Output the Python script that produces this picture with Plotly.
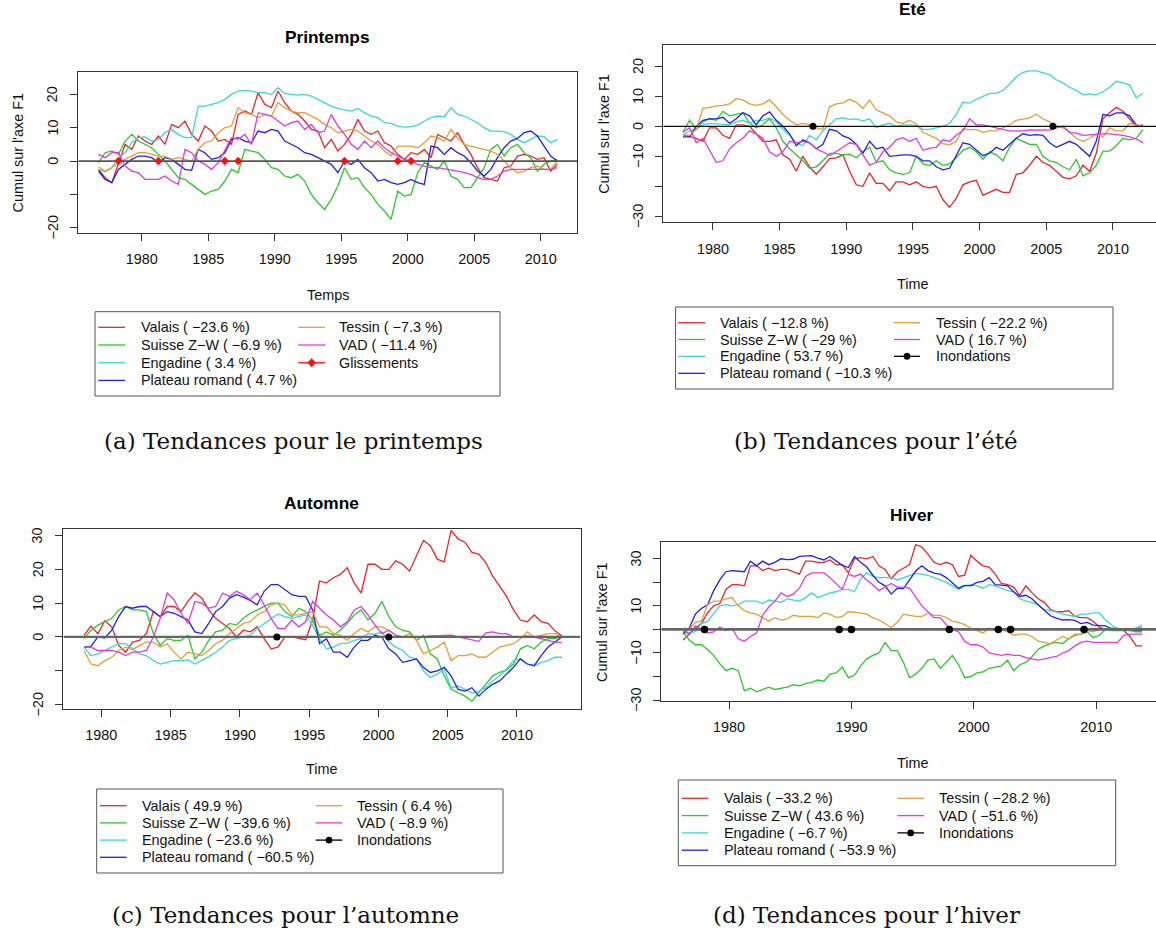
import plotly.graph_objects as go

W, H = 1156, 928
STEP = 0.5  # years between successive readings

REGIONS = ["Valais", "Suisse Z\u2212W", "Engadine", "Plateau romand", "Tessin", "VAD"]
COLORS = ["#e8262b", "#2cc92c", "#38d8d8", "#2020ee", "#e99d33", "#e23ae2"]

# ---------------- (a) Printemps ----------------
A_START = 1976.75
A_VALAIS = [-2.5, -5.0, -6.5, -1.0, 5.0, 3.5, 7.5, 6.0, 5.0, 7.5,
            5.0, 11.0, 10.0, 12.0, 8.0, 6.0, 10.5, 9.0, 6.0, 6.5,
            5.0, 14.0, 15.0, 14.0, 20.5, 17.0, 16.0, 21.0, 17.5, 15.0,
            14.0, 12.0, 9.5, 9.0, 4.0, 6.5, 3.0, 5.0, 8.0, 12.5,
            9.0, 8.0, 9.0, 5.5, 4.5, 2.0, 0.5, 2.5, 2.0, 3.5,
            1.0, 8.0, 7.0, 6.0, 8.5, 5.0, 2.0, -2.0, -5.0, -5.5,
            -6.0, -2.0, -1.5, 1.5, 2.0, 1.5, 0.5, 1.0, -3.0, -1.0]
A_SUISSE = [-0.5, 2.5, 3.0, 2.0, 6.0, 8.0, 6.0, 5.0, 4.0, 2.0,
            0.0, -2.5, -5.0, -5.5, -7.0, -8.5, -10.0, -9.0, -8.5, -6.0,
            -2.5, -3.5, 3.5, 3.0, 2.5, 0.5, -2.0, -2.5, -4.5, -5.0,
            -4.0, -6.0, -10.0, -12.5, -14.5, -11.5, -7.5, -2.0, -5.5, -5.0,
            -8.0, -10.0, -13.0, -15.0, -17.5, -9.0, -10.5, -10.0, -3.5, -0.5,
            -1.5, -2.5, 0.0, -4.5, -5.5, -8.0, -8.0, -5.0, -2.0, 3.5,
            5.0, 1.5, 4.0, 5.0, 2.5, 1.0, -3.0, -1.0, 0.0, 0.5]
A_ENGADINE = [-2.5, -3.2, -2.0, 1.0, 2.5, 5.5, 7.0, 7.2, 6.0, 6.5,
              8.5, 9.5, 8.0, 7.0, 7.0, 16.5, 16.5, 17.0, 17.5, 18.5,
              20.0, 21.0, 21.2, 21.0, 20.5, 20.5, 20.0, 22.0, 20.3, 20.0,
              19.8, 20.0, 19.5, 18.5, 17.5, 16.5, 15.8, 15.5, 15.0, 15.8,
              14.5, 13.5, 13.0, 11.5, 11.3, 10.5, 10.2, 10.3, 10.8, 12.0,
              13.0, 13.5, 13.3, 16.0, 14.0, 13.5, 12.5, 11.5, 10.0, 9.0,
              9.0, 8.8, 8.0, 6.5, 5.5, 6.5, 7.5, 7.3, 5.5, 6.5]
A_PLATEAU = [-3.0, -5.5, -6.5, -2.5, -1.0, 0.5, 1.5, 1.5, 1.0, -0.5,
             1.0, 0.5, -1.0, -2.5, -2.8, 3.5, 2.5, 0.5, 1.0, 2.5,
             6.5, 7.0, 6.0, 5.5, 9.0, 8.5, 9.5, 9.0, 6.0, 5.0,
             4.0, 2.5, 2.0, 1.0, 0.0, -1.0, -3.5, 0.0, -1.0, 0.5,
             -2.0, -3.5, -6.0, -5.5, -6.5, -7.0, -6.5, -5.5, -6.5, -7.0,
             4.5, 4.0, 2.0, 4.0, 2.5, 1.5, -0.5, -3.0, -4.5, -2.5,
             1.0, 4.0, 6.0, 6.8, 8.5, 9.0, 7.5, 4.5, 1.5, 0.0]
A_TESSIN = [-1.8, -3.0, -2.0, -0.5, 0.5, 1.5, 2.5, 2.5, 2.0, 1.5,
            1.5, 0.5, 1.0, 0.5, 0.0, 3.5, 5.5, 6.0, 8.5, 10.0,
            10.5, 16.0, 14.5, 14.0, 13.0, 14.0, 13.5, 17.5, 16.0, 15.0,
            14.5, 14.5, 13.5, 12.5, 11.0, 10.0, 8.5, 9.0, 9.5, 9.0,
            7.5, 6.0, 5.0, 3.0, 1.5, 4.5, 4.5, 4.5, 4.0, 5.5,
            7.5, 7.0, 6.0, 9.5, 7.0, 5.0, 4.5, 4.0, 3.5, 3.0,
            2.0, 0.0, -2.0, -3.5, -3.0, -2.0, -1.5, -2.5, -2.5, 0.0]
A_VAD = [2.0, 1.0, 2.5, 2.5, -1.5, -3.0, -3.5, -5.5, -5.5, -5.5,
         -4.5, -6.0, -7.0, 3.5, 2.5, 0.0, -1.0, -2.5, -0.5, 3.5,
         7.0, 6.5, 8.0, 5.0, 14.5, 14.0, 13.5, 12.0, 10.5, 11.5,
         12.0, 9.5, 11.0, 8.5, 9.0, 14.0, 10.5, 8.0, 5.0, 3.5,
         6.0, 4.0, 6.0, 4.0, 2.5, 1.5, 0.5, 0.0, -1.0, -1.5,
         -2.0, -2.0, -2.3, -2.5, -3.0, -3.5, -4.0, -5.0, -5.5, -5.5,
         -4.5, -3.0, -2.5, -2.5, -2.5, -2.5, -2.3, -2.5, -2.5, -2.0]
A_EVENTS = [1978.25, 1981.25, 1986.25, 1987.25, 1995.25, 1999.25, 2000.25]
A_PCT = [-23.6, -6.9, 3.4, 4.7, -7.3, -11.4]

# ---------------- (b) Eté ----------------
B_START = 1977.75
B_VALAIS = [-2.8, -3.3, -4.0, -5.0, -0.5, -0.5, -3.0, -4.0, 0.5, 0.5,
            0.0, -2.5, -5.0, -5.0, -4.5, -9.5, -11.0, -15.0, -10.0, -13.5,
            -16.0, -13.5, -10.8, -10.5, -9.5, -15.0, -19.5, -20.0, -15.5, -19.0,
            -19.0, -21.5, -18.5, -18.5, -19.5, -18.5, -20.0, -20.5, -20.0, -24.5,
            -27.0, -24.0, -19.5, -18.5, -18.0, -23.0, -22.0, -21.0, -22.0, -22.0,
            -16.0, -15.5, -13.0, -10.0, -12.0, -13.0, -15.0, -17.0, -17.5, -16.5,
            -13.0, -15.0, -9.0, 2.5, 4.5, 6.3, 5.0, 2.5, 0.0, 0.5]
B_SUISSE = [-2.0, 2.0, -1.0, 1.5, 2.5, 2.0, 5.0, 3.5, 4.0, 4.5,
            1.0, -0.5, 0.5, 2.5, -0.5, -5.0, -7.5, -9.5, -11.5, -14.0,
            -13.5, -11.5, -9.0, -9.0, -9.5, -9.3, -10.5, -8.5, -7.0, -12.0,
            -11.5, -14.5, -15.5, -16.0, -15.5, -10.0, -12.5, -13.0, -11.5, -13.0,
            -12.5, -10.5, -8.0, -7.0, -8.5, -11.0, -8.5, -9.5, -11.5, -7.0,
            -4.0, -5.0, -6.0, -6.0, -10.0, -11.5, -12.0, -13.5, -14.5, -11.0,
            -16.5, -15.5, -13.0, -8.3, -8.3, -6.5, -4.0, -4.5, -4.0, -1.0]
B_ENGADINE = [-2.8, -1.5, -1.0, 0.5, 1.0, 0.8, 0.8, 0.5, 1.5, 2.0,
              1.0, 2.0, 2.0, 2.8, 1.5, -1.0, -3.0, -5.5, -6.5, -3.0,
              -4.5, -1.5, 0.5, 2.5, 2.8, 2.3, 2.5, 1.8, 2.5, -0.5,
              0.5, 1.0, 0.0, 0.5, 0.5, 0.3, -1.0, -1.0, -0.5, 0.0,
              1.0, 4.0, 8.0, 7.7, 9.0, 10.0, 11.0, 11.0, 12.0, 14.0,
              16.5, 18.0, 18.5, 18.5, 17.8, 17.2, 15.5, 14.5, 13.0, 12.0,
              10.5, 10.8, 10.5, 11.5, 13.0, 15.0, 14.5, 13.8, 9.5, 11.0]
B_PLATEAU = [-3.5, -3.5, 0.0, 2.0, 2.5, 2.5, 3.0, 1.0, 2.5, 4.5,
             3.5, 0.5, 3.5, 4.8, 2.0, 0.0, -2.5, -6.5, -4.5, -5.5,
             -7.5, -6.0, -1.0, -1.5, -3.2, -4.0, -6.0, -9.0, -5.0, -7.5,
             -7.0, -10.0, -9.8, -9.5, -9.5, -10.0, -11.5, -11.5, -13.5, -14.5,
             -14.0, -10.0, -5.5, -6.0, -8.0, -9.8, -9.0, -7.0, -8.0, -6.0,
             -4.0, -2.5, -3.0, -2.8, -3.0, -5.5, -7.0, -6.0, -5.0, -6.0,
             -8.0, -10.0, -5.0, 4.0, 3.5, 4.5, 4.5, 3.5, 0.5, 0.0]
B_TESSIN = [-2.8, -3.0, -1.0, 6.0, 6.3, 6.8, 7.0, 7.5, 9.2, 8.8,
            7.5, 7.0, 7.5, 8.8, 6.5, 4.0, 2.0, 0.5, 1.0, 0.5,
            -0.5, -1.0, 6.5, 7.5, 7.8, 9.0, 8.0, 6.0, 8.7, 5.5,
            4.5, 3.5, 1.5, 1.0, 2.0, 0.8, -2.0, -3.0, -4.0, -5.8,
            -6.2, -5.0, -0.8, -1.2, -1.0, -2.0, -1.5, -1.5, -0.5, 0.5,
            2.0, 2.5, 2.8, 4.0, 2.5, 1.5, 0.0, -0.5, -2.0, -4.0,
            -5.0, -4.0, -2.5, -3.5, -0.5, -1.5, -1.5, 1.0, 0.5, 0.0]
B_VAD = [-2.0, -0.5, -5.5, -4.0, -8.0, -12.0, -11.5, -7.5, -5.5, -4.0,
         -1.5, -2.5, -4.0, -8.5, -10.0, -8.5, -5.0, -5.5, -5.0, -5.5,
         -7.5, -8.5, -9.8, -8.5, -7.0, -5.5, -6.0, -9.5, -13.0, -12.0,
         -8.5, -7.0, -4.5, -3.8, -5.0, -4.0, -8.0, -7.3, -7.0, -4.5,
         -5.0, -3.0, -1.5, 2.5, 0.5, 0.5, 0.0, -0.5, -1.0, -1.5,
         -1.5, -1.5, -1.2, -1.2, -1.3, -1.3, -0.5, 0.0, -2.0, -2.3,
         -3.0, -2.8, -2.5, -2.5, -2.5, -2.7, -3.0, -3.5, -4.2, -5.5]
B_EVENTS = [1987.5, 2005.5]
B_PCT = [-12.8, -29, 53.7, -10.3, -22.2, 16.7]

# ---------------- (c) Automne ----------------
C_START = 1978.75
C_VALAIS = [0.5, 3.2, 1.0, 4.8, 3.0, -2.5, -4.5, -1.5, -1.0, 1.0,
            7.5, 6.0, 9.0, 9.0, 7.5, 10.5, 13.0, 11.5, 8.0, 5.5,
            4.0, 2.5, 0.0, 2.0, 1.5, 3.0, -0.5, -3.5, -3.0, 0.0,
            0.0, -0.5, -0.8, 5.0, 16.5, 16.0, 17.5, 18.5, 20.5, 16.0,
            13.0, 21.5, 21.5, 20.0, 20.0, 22.5, 21.5, 19.5, 24.0, 28.5,
            27.0, 23.0, 22.2, 31.5, 29.0, 28.0, 25.0, 24.5, 22.0, 18.0,
            15.0, 12.0, 8.0, 5.0, 4.5, 6.5, 4.5, 4.0, 1.8, 0.3]
C_SUISSE = [-0.5, 2.0, 3.5, 4.5, 5.5, 8.0, 9.0, 8.0, 8.0, 7.5,
            1.0, -2.5, -0.5, -1.0, -1.0, 0.5, -6.5, -4.5, -1.0, 1.5,
            2.0, 4.0, 3.5, 5.5, 7.0, 8.0, 9.0, 10.0, 10.0, 7.5,
            6.0, 8.5, 7.5, 5.0, 0.5, 1.5, 0.5, 2.0, 4.0, 6.5,
            8.0, 5.0, 7.0, 10.5, 6.0, 3.0, 2.0, 1.5, -1.0, 0.5,
            -5.0, -6.5, -11.5, -15.5, -16.5, -17.5, -19.0, -16.5, -14.0, -11.5,
            -10.5, -9.8, -8.0, -3.5, -2.5, -3.5, -1.5, -0.5, -0.5, 0.0]
C_ENGADINE = [-3.0, -5.5, -5.0, -4.0, -3.0, -2.0, -2.0, -3.5, -5.0, -5.5,
              -7.0, -8.0, -7.5, -7.0, -7.0, -6.8, -8.0, -7.0, -5.8, -4.5,
              -3.0, -1.0, -0.5, 0.0, 0.5, 2.5, 4.0, 5.5, 6.8, 6.0,
              5.5, 6.0, 6.5, 3.5, -0.5, -3.5, -3.0, -2.0, -1.8, -1.0,
              -0.5, 1.0, 0.8, 1.5, -1.5, -3.0, -4.0, -6.0, -6.5, -10.0,
              -12.0, -11.0, -9.5, -15.0, -14.5, -15.5, -16.5, -16.0, -15.0, -13.0,
              -11.5, -9.5, -7.0, -6.5, -8.0, -8.5, -7.5, -7.0, -6.0, -6.0]
C_PLATEAU = [-3.0, -2.8, 0.0, -0.3, 2.0, 6.0, 9.0, 8.5, 9.0, 9.0,
             7.5, 6.0, 7.5, 7.0, 6.0, 5.0, 1.5, 1.0, 4.0, 7.5,
             9.0, 11.5, 12.5, 11.8, 10.8, 9.5, 13.5, 15.5, 15.5, 14.0,
             12.5, 12.0, 12.0, 8.0, -2.0, -0.5, -4.5, -4.5, -6.0, -3.0,
             -1.0, -1.0, 0.5, 0.0, -3.5, -5.0, -7.5, -7.0, -6.5, -9.0,
             -10.5, -10.0, -9.0, -11.5, -15.5, -16.0, -15.0, -17.5, -15.5, -14.0,
             -13.0, -11.0, -9.0, -6.5, -8.0, -8.5, -5.5, -3.0, -1.5, 0.0]
C_TESSIN = [-4.0, -8.0, -8.5, -7.0, -6.0, -4.0, -3.0, -3.8, -2.5, -1.5,
            -1.5, -3.0, -2.0, -4.5, -6.5, -4.5, -5.0, -5.5, -4.0, -2.0,
            -1.0, 1.0, 2.5, 4.0, 4.5, 6.5, 7.5, 9.5, 10.0, 9.5,
            6.5, 6.5, 7.0, 7.5, 3.0, 3.0, 1.0, 0.5, -1.0, 1.0,
            2.5, 1.5, 3.0, 3.0, 2.0, 0.5, 0.0, 1.0, -1.0, -5.0,
            -4.0, -3.0, -1.5, -7.0, -5.5, -5.5, -5.0, -6.0, -6.0, -4.5,
            -3.0, -2.5, -2.0, -0.5, 1.5, 0.0, 0.5, 1.0, 1.0, 0.0]
C_VAD = [-3.0, -3.0, -4.0, -4.0, -4.0, -4.5, -5.5, -4.5, -4.5, -4.0,
         0.0, 5.5, 13.0, 11.0, 7.0, 4.0, 10.5, 10.0, 8.5, 9.0,
         13.0, 12.0, 13.5, 12.5, 11.0, 13.0, 9.5, 5.5, 2.5, 2.5,
         5.0, 3.0, 4.5, 10.5, 8.5, 6.5, 5.0, 3.0, 4.5, 8.0,
         9.0, 6.5, 3.5, 1.0, 2.0, 0.5, 0.0, 0.0, 0.0, 0.0,
         0.3, 0.3, 0.5, 0.5, 0.0, -0.5, -1.0, -1.3, 1.2, 1.5,
         1.0, 1.0, 0.0, 0.0, 0.3, 0.0, -0.5, -1.0, -1.5, -1.7]
C_EVENTS = [1992.67, 2000.75]
C_PCT = [49.9, -39.6, -23.6, -60.5, 6.4, -8.9]

# ---------------- (d) Hiver ----------------
D_START = 1976.25
D_VALAIS = [-4.5, -2.0, 0.5, 2.5, 7.0, 10.0, 11.0, 17.0, 19.0, 19.0,
            18.5, 27.0, 27.0, 25.0, 26.0, 25.0, 25.5, 25.5, 24.5, 23.5,
            29.0, 29.0, 28.5, 28.5, 29.5, 27.5, 27.5, 24.0, 30.0, 30.5,
            30.0, 31.0, 27.0, 25.5, 21.5, 24.5, 26.0, 27.5, 36.0, 35.0,
            32.0, 28.5, 27.5, 28.5, 27.5, 22.5, 23.0, 31.5, 29.0, 27.0,
            26.5, 23.5, 19.5, 19.0, 18.0, 14.5, 18.5, 15.5, 13.0, 11.5,
            8.5, 7.5, 7.5, 8.0, 5.5, 5.0, 5.0, 3.5, 1.0, 0.0,
            0.0, 0.0, -0.5, -3.0, -7.0, -7.0]
D_SUISSE = [-1.0, -4.5, -6.5, -6.5, -8.5, -11.0, -14.5, -17.5, -16.5, -17.5,
            -26.0, -25.0, -26.5, -25.5, -24.5, -25.5, -25.0, -24.5, -23.5, -24.0,
            -23.0, -22.5, -21.5, -22.0, -19.0, -18.5, -16.0, -20.5, -19.5, -15.5,
            -12.5, -11.0, -10.0, -5.5, -9.0, -9.0, -14.0, -20.5, -19.0, -16.5,
            -13.0, -12.5, -16.5, -14.0, -11.0, -15.0, -20.5, -20.0, -18.5, -18.0,
            -16.5, -16.0, -15.5, -13.0, -17.5, -15.0, -14.0, -11.5, -8.5, -7.0,
            -6.0, -5.5, -6.0, -4.0, -2.5, -2.0, -1.0, -3.5, -2.5, 0.0,
            -0.5, -0.5, -0.5, -0.5, -1.0, -1.0]
D_ENGADINE = [-0.5, -1.5, -1.0, 2.5, 3.5, 7.0, 10.0, 10.5, 10.0, 10.5,
              12.0, 12.0, 12.0, 11.0, 12.5, 12.0, 11.5, 13.0, 12.5, 12.0,
              13.5, 15.5, 13.5, 14.5, 15.5, 16.0, 17.0, 17.0, 16.0, 21.5,
              24.0, 22.5, 22.0, 22.0, 22.0, 21.0, 22.0, 23.0, 23.8, 23.5,
              23.0, 22.0, 21.0, 20.0, 18.5, 17.0, 18.5, 19.0, 18.5, 17.5,
              19.0, 18.5, 17.5, 16.5, 16.0, 13.0, 12.0, 11.5, 10.5, 8.5,
              8.0, 7.5, 6.5, 6.0, 5.5, 6.5, 6.5, 7.0, 7.0, 4.0,
              2.0, 0.0, 0.0, 0.0, 0.5, 2.0]
D_PLATEAU = [-2.0, 0.5, 6.5, 8.9, 10.5, 16.5, 21.0, 24.5, 25.0, 24.8,
             24.5, 29.0, 27.0, 29.0, 27.5, 28.5, 30.0, 29.6, 29.8, 31.0,
             31.0, 31.3, 30.3, 29.5, 31.0, 29.0, 27.2, 26.3, 31.0, 28.5,
             26.5, 23.0, 20.0, 18.5, 15.0, 17.5, 17.3, 21.0, 24.8, 27.0,
             25.0, 23.9, 23.5, 22.0, 19.8, 17.5, 18.7, 18.5, 20.0, 20.4,
             22.0, 19.0, 18.8, 18.5, 16.0, 14.0, 14.5, 13.0, 10.5, 8.0,
             5.8, 4.8, 4.0, 4.2, 3.8, 2.5, 3.0, 1.8, 1.5, 1.5,
             0.4, 0.3, 0.0, 0.0, -0.4, -0.4]
D_TESSIN = [-0.5, 0.0, 3.0, 3.5, 10.5, 12.0, 12.0, 13.0, 13.5, 10.0,
            8.0, 7.0, 6.5, 5.0, 3.5, 5.0, 4.0, 4.5, 6.0, 5.5,
            5.5, 5.5, 5.0, 7.0, 6.5, 5.0, 5.5, 7.5, 7.3, 6.8,
            6.5, 5.0, 4.0, 2.5, 0.8, 3.0, 6.5, 6.0, 5.5, 5.5,
            6.8, 6.0, 6.0, 5.0, 3.5, 3.0, 2.0, 0.5, -0.5, -1.5,
            0.5, 0.0, 0.0, -1.0, -2.5, -2.0, -2.0, -3.0, -5.0, -5.5,
            -6.0, -4.5, -3.0, -4.0, -2.0, -2.0, -0.5, -1.0, 0.0, 0.0,
            0.5, 0.5, 0.0, 0.0, 0.5, 1.0]
D_VAD = [-0.5, -2.0, 1.5, 0.0, -1.5, -1.0, 1.0, -0.5, 0.5, -4.0,
         -5.0, -3.0, -1.5, 6.0, 9.5, 12.0, 15.5, 14.0, 15.0, 17.5,
         22.5, 24.0, 24.0, 24.0, 22.0, 19.5, 17.0, 23.5, 22.5, 23.5,
         21.0, 19.0, 16.5, 18.0, 19.5, 18.0, 18.0, 17.5, 14.0, 10.0,
         7.5, 5.0, 5.0, 2.0, 0.0, -1.0, -5.0, -6.5, -6.5, -7.5,
         -10.0, -10.5, -11.0, -10.5, -11.0, -11.0, -12.0, -12.5, -13.0, -12.5,
         -12.0, -11.5, -10.0, -9.0, -7.0, -5.5, -5.0, -5.5, -5.5, -5.5,
         -5.5, -5.5, -2.5, -2.0, -2.0, -2.0]
D_EVENTS = [1978.0, 1989.0, 1990.0, 1998.0, 2002.0, 2003.0, 2009.0]
D_PCT = [-33.2, 43.6, -6.7, -53.9, -28.2, -51.6]

# tick values / labels
A_YTICKS, A_YTEXT = [-20, -10, 0, 10, 20], ["\u221220", "", "0", "10", "20"]
B_YTICKS, B_YTEXT = [-30, -20, -10, 0, 10, 20], ["\u221230", "", "\u221210", "0", "10", "20"]
C_YTICKS, C_YTEXT = [-20, -10, 0, 10, 20, 30], ["\u221220", "", "0", "10", "20", "30"]
D_YTICKS, D_YTEXT = [-30, -20, -10, 0, 10, 20, 30], ["\u221230", "", "\u221210", "", "10", "", "30"]
X5_TICKS = [1980, 1985, 1990, 1995, 2000, 2005, 2010]
X10_TICKS = [1980, 1990, 2000, 2010]

# ---------------- layout helpers ----------------
SANS = "Liberation Sans, Arial, Helvetica, sans-serif"
SERIF = "DejaVu Serif, serif"
FS = 14.4


def px(x):
    return x / W


def py(y):
    return 1 - y / H


def lab(name, v):
    s = ("%g" % v).replace("-", "\u2212")
    return "%s ( %s %%)" % (name, s)


PANELS = [
    dict(start=A_START, series=[A_VALAIS, A_SUISSE, A_ENGADINE, A_PLATEAU, A_TESSIN, A_VAD],
         events=A_EVENTS, ev_name="Glissements", ev_symbol="diamond", ev_color="#ff1010", ev_size=6.5,
         pct=A_PCT, box=(78.3, 71.7, 577.0, 232.7), xr=[1975.23, 2012.73], yr=[-21.5, 26.8], right=True,
         xt=X5_TICKS, yt=A_YTICKS, ytext=A_YTEXT, zl=("#555555", 1.8),
         title="Printemps", title_y=36.7, xlabel="Temps", xlabel_y=295, ylabel=True,
         lbox=(95, 311.7, 500, 396), rows=[327.3, 345.0, 362.7, 380.4],
         c1=(98.3, 125, 139), c2=(298.3, 325, 337.3),
         caption="(a) Tendances pour le printemps", cap=(293, 441)),
    dict(start=B_START, series=[B_VALAIS, B_SUISSE, B_ENGADINE, B_PLATEAU, B_TESSIN, B_VAD],
         events=B_EVENTS, ev_name="Inondations", ev_symbol="circle", ev_color="#000000", ev_size=7,
         pct=B_PCT, box=(663.3, 44.7, 1156.0, 222.3), xr=[1976.28, 2013.23], yr=[-32.0, 27.2], right=False,
         xt=X5_TICKS, yt=B_YTICKS, ytext=B_YTEXT, zl=("#111111", 1.3),
         title="Eté", title_y=9.0, xlabel="Time", xlabel_y=284, ylabel=True, title_x=912,
         lbox=(675.6, 307, 1113, 389), rows=[322.7, 339.5, 356.3, 373.3],
         c1=(678.3, 705, 718.3), c2=(894, 920, 934),
         caption="(b) Tendances pour l\u2019été", cap=(876, 441)),
    dict(start=C_START, series=[C_VALAIS, C_SUISSE, C_ENGADINE, C_PLATEAU, C_TESSIN, C_VAD],
         events=C_EVENTS, ev_name="Inondations", ev_symbol="circle", ev_color="#000000", ev_size=7,
         pct=C_PCT, box=(63.4, 529.4, 580.5, 709.0), xr=[1977.26, 2014.59], yr=[-21.3, 31.8], right=True,
         xt=X5_TICKS, yt=C_YTICKS, ytext=C_YTEXT, zl=("#666666", 2.2),
         title="Automne", title_y=503.3, xlabel="Time", xlabel_y=769, ylabel=False,
         lbox=(96.7, 789, 503, 873), rows=[805.7, 822.9, 840.1, 857.3],
         c1=(100, 126.7, 140), c2=(315.7, 342.3, 355),
         caption="(c) Tendances pour l\u2019automne", cap=(285, 915)),
    dict(start=D_START, series=[D_VALAIS, D_SUISSE, D_ENGADINE, D_PLATEAU, D_TESSIN, D_VAD],
         events=D_EVENTS, ev_name="Inondations", ev_symbol="circle", ev_color="#000000", ev_size=7.5,
         pct=D_PCT, box=(661.3, 542.3, 1156.0, 701.0), xr=[1974.47, 2014.88], yr=[-30.4, 37.0], right=False,
         xt=X10_TICKS, yt=D_YTICKS, ytext=D_YTEXT, zl=("#666666", 2.6),
         title="Hiver", title_y=515, xlabel="Time", xlabel_y=762.7, ylabel=True, title_x=912,
         lbox=(678.3, 780, 1115.7, 865.7), rows=[798.3, 815.6, 832.9, 850.2],
         c1=(681.7, 708.3, 721.7), c2=(897.3, 924, 936.7),
         caption="(d) Tendances pour l\u2019hiver", cap=(866, 915)),
]

fig = go.Figure()
layout = dict(width=W, height=H, margin=dict(l=0, r=0, t=0, b=0),
              paper_bgcolor="white", plot_bgcolor="white", showlegend=False,
              font=dict(family=SANS, size=FS, color="#111111"))
annotations = []
shapes = []

for k, p in enumerate(PANELS):
    sfx = "" if k == 0 else str(k + 1)
    xid, yid = "x" + sfx, "y" + sfx
    bl, bt, br, bb = p["box"]
    for j, vals in enumerate(p["series"]):
        xs = [p["start"] + STEP * i for i in range(len(vals))]
        fig.add_trace(go.Scatter(x=xs, y=vals, mode="lines", name=REGIONS[j],
                                 line=dict(color=COLORS[j], width=1.3),
                                 xaxis=xid, yaxis=yid, hoverinfo="x+y+name"))
    # horizontal reference at zero across the panel
    fig.add_trace(go.Scatter(x=p["xr"], y=[0, 0], mode="lines",
                             line=dict(color=p["zl"][0], width=p["zl"][1]),
                             xaxis=xid, yaxis=yid, hoverinfo="skip"))
    fig.add_trace(go.Scatter(x=p["events"], y=[0] * len(p["events"]), mode="markers",
                             name=p["ev_name"],
                             marker=dict(symbol=p["ev_symbol"], size=p["ev_size"], color=p["ev_color"],
                                         line=dict(width=0)),
                             xaxis=xid, yaxis=yid))

    layout["xaxis" + sfx] = dict(
        domain=[px(bl), min(1.0, px(br))], range=p["xr"], anchor=yid,
        showline=True, mirror=True, linecolor="#333333", linewidth=1,
        ticks="outside", ticklen=7, tickwidth=1, tickcolor="#333333",
        tickvals=p["xt"], ticktext=[str(v) for v in p["xt"]],
        tickfont=dict(family=SANS, size=FS, color="#111111"),
        showgrid=False, zeroline=False, ticklabelstandoff=6, fixedrange=True)
    layout["yaxis" + sfx] = dict(
        domain=[py(bb), py(bt)], range=p["yr"], anchor=xid,
        showline=True, mirror=p["right"], linecolor="#333333", linewidth=1,
        ticks="outside", ticklen=7, tickwidth=1, tickcolor="#333333",
        tickvals=p["yt"], showticklabels=False,
        showgrid=False, zeroline=False, fixedrange=True)
    # rotated y tick labels (R style), placed on the y axis scale
    for v, t in zip(p["yt"], p["ytext"]):
        if t:
            annotations.append(dict(text=t, x=px(bl - 25.5), y=v, xref="paper", yref=yid,
                                    xanchor="center", yanchor="middle", textangle=-90,
                                    showarrow=False,
                                    font=dict(family=SANS, size=FS, color="#111111")))

    cx = p.get("title_x", (bl + br) / 2)
    annotations.append(dict(text="<b>%s</b>" % p["title"], x=px(cx), y=py(p["title_y"]),
                            xref="paper", yref="paper", xanchor="center", yanchor="middle",
                            showarrow=False, font=dict(family=SANS, size=17.3, color="#000000")))
    annotations.append(dict(text=p["xlabel"], x=px(cx), y=py(p["xlabel_y"]),
                            xref="paper", yref="paper", xanchor="center", yanchor="middle",
                            showarrow=False, font=dict(family=SANS, size=FS, color="#111111")))
    if p["ylabel"]:
        annotations.append(dict(text="Cumul sur l'axe F1", x=px(bl - 60), y=py((bt + bb) / 2),
                                xref="paper", yref="paper", xanchor="center", yanchor="middle",
                                textangle=-90, showarrow=False,
                                font=dict(family=SANS, size=FS, color="#111111")))
    # legend box
    lx0, ly0, lx1, ly1 = p["lbox"]
    shapes.append(dict(type="rect", xref="paper", yref="paper", x0=px(lx0), x1=px(lx1),
                       y0=py(ly1), y1=py(ly0), line=dict(color="#555555", width=1),
                       fillcolor="rgba(0,0,0,0)"))
    entries = [(0, 0), (0, 1), (0, 2), (0, 3), (1, 0), (1, 1)]
    for j, (col, row) in enumerate(entries):
        c = p["c1"] if col == 0 else p["c2"]
        ry = p["rows"][row]
        shapes.append(dict(type="line", xref="paper", yref="paper", x0=px(c[0]), x1=px(c[1]),
                           y0=py(ry), y1=py(ry), line=dict(color=COLORS[j], width=1.3)))
        annotations.append(dict(text=lab(REGIONS[j], p["pct"][j]), x=px(c[2]), y=py(ry),
                                xref="paper", yref="paper", xanchor="left", yanchor="middle",
                                showarrow=False, font=dict(family=SANS, size=FS, color="#111111")))
    c = p["c2"]
    ry = p["rows"][2]
    shapes.append(dict(type="line", xref="paper", yref="paper", x0=px(c[0]), x1=px(c[1]),
                       y0=py(ry), y1=py(ry), line=dict(color=p["ev_color"], width=1.3)))
    mx = (c[0] + c[1]) / 2
    if p["ev_symbol"] == "diamond":
        r = 4.2
        path = "M %f %f L %f %f L %f %f L %f %f Z" % (
            px(mx - r), py(ry), px(mx), py(ry - r), px(mx + r), py(ry), px(mx), py(ry + r))
        shapes.append(dict(type="path", xref="paper", yref="paper", path=path,
                           fillcolor=p["ev_color"], line=dict(color=p["ev_color"], width=0.5)))
    else:
        r = 3.2
        shapes.append(dict(type="circle", xref="paper", yref="paper", x0=px(mx - r), x1=px(mx + r),
                           y0=py(ry + r), y1=py(ry - r), fillcolor="#000000",
                           line=dict(color="#000000", width=0.5)))
    annotations.append(dict(text=p["ev_name"], x=px(c[2]), y=py(ry),
                            xref="paper", yref="paper", xanchor="left", yanchor="middle",
                            showarrow=False, font=dict(family=SANS, size=FS, color="#111111")))
    # caption
    annotations.append(dict(text=p["caption"], x=px(p["cap"][0]), y=py(p["cap"][1]),
                            xref="paper", yref="paper", xanchor="center", yanchor="middle",
                            showarrow=False, font=dict(family=SERIF, size=23, color="#111111")))

layout["annotations"] = annotations
layout["shapes"] = shapes
fig.update_layout(**layout)
fig.write_html("out.html", config={"displayModeBar": False},
               post_script="document.body.style.margin='0';")
